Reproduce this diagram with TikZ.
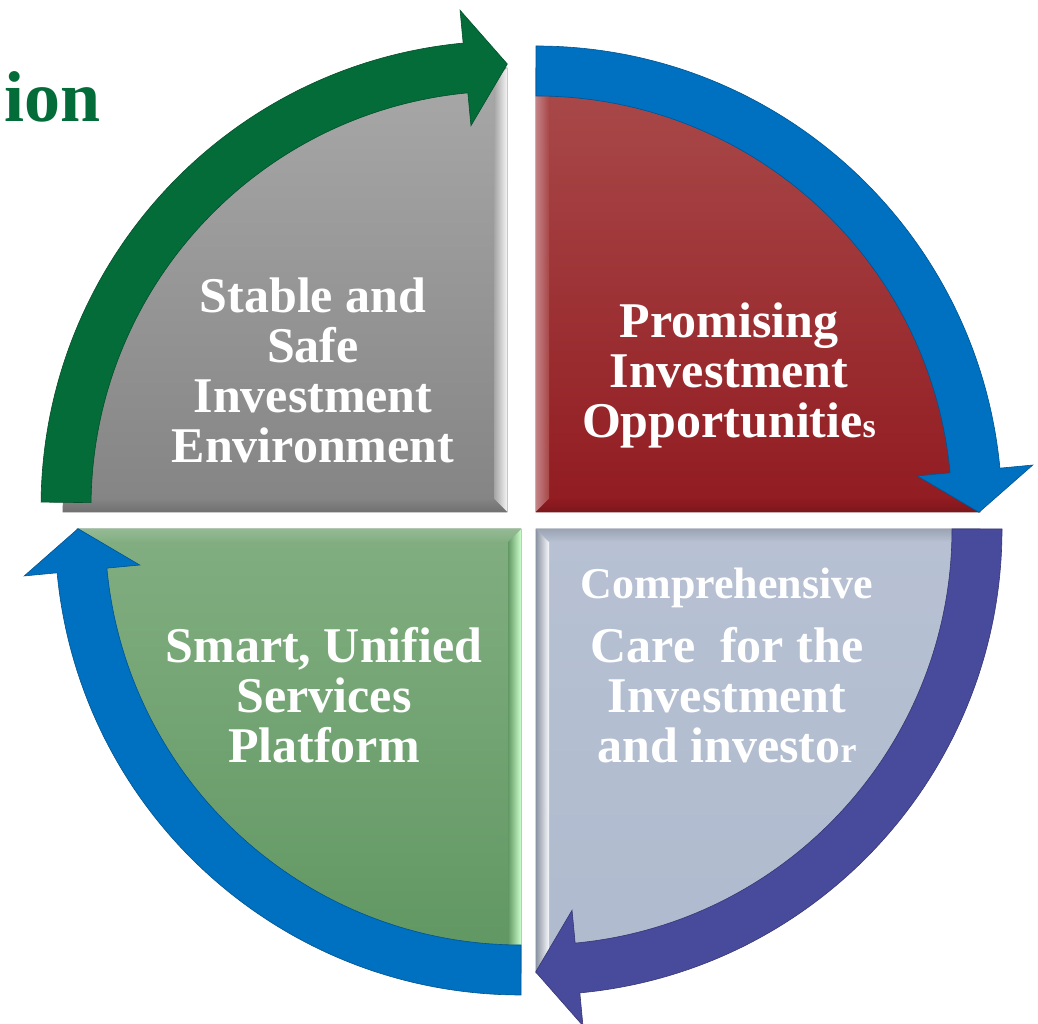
\documentclass[tikz,border=0pt]{standalone}
\usepackage{fontspec}
\setmainfont{Liberation Serif}
\usepackage{tikz}
\usetikzlibrary{calc}
\usetikzlibrary{arrows.meta}
\usetikzlibrary{positioning}
\tikzset{>=latex}

\definecolor{graytop}{HTML}{A8A8A8}
\definecolor{graybot}{HTML}{848484}
\definecolor{redtop}{HTML}{AA4B4B}
\definecolor{redbot}{HTML}{911B21}
\definecolor{greentop}{HTML}{82AE81}
\definecolor{greenbot}{HTML}{5F9661}
\definecolor{bgtop}{HTML}{B7C1D3}
\definecolor{bgbot}{HTML}{AFBACE}
\definecolor{vgreen}{HTML}{046C38}
\definecolor{vblue}{HTML}{0070C0}
\definecolor{vpurple}{HTML}{484A9C}

\tikzstyle{lbl} = [draw=none, inner sep = 0, text = white, align = center, font = \bfseries\fontsize{50}{50}\selectfont]
\tikzstyle{edge} = [line width = 0.6pt]
\tikzstyle{bevel} = [draw = none]

% curved arrow round a corner: #1 corner, #2 start angle, #3 end angle, #4 colour
\newcommand{\turnarrow}[4]{
  \draw [edge, fill = #4, draw = #4!75!black] ($(#1) + (#2:466)$) arc (#2:#3:466)
    -- ($(#1) + (#3:499)$) -- ($(#1) + (#3:441) + (#3-90:42)$) -- ($(#1) + (#3:383)$)
    -- ($(#1) + (#3:416)$) arc (#3:#2:416) -- cycle;
}

\begin{document}
\begin{tikzpicture}[x = 1pt, y = 1pt]
\useasboundingbox (0, 0) rectangle (1038, 1024);

% corners of the four quarters
\coordinate (cS) at (507, 512);
\coordinate (cP) at (536, 512);
\coordinate (cU) at (521, 495);
\coordinate (cC) at (536, 495);
\coordinate (aS) at (507, 517); % the green arrow sits a little higher

% quarters
\shadedraw [edge, draw = graybot!80!black, top color = graytop, bottom color = graybot] (cS) -- ++(180:444) arc (180:90:444) -- cycle;
\shadedraw [edge, draw = redbot!80!black, top color = redtop, bottom color = redbot] (cP) -- ++(0:444) arc (0:90:444) -- cycle;
\shadedraw [edge, draw = greenbot!80!black, top color = greentop, bottom color = greenbot] (cU) -- ++(270:444) arc (270:180:444) -- cycle;
\shadedraw [edge, draw = bgbot!70!black, top color = bgtop, bottom color = bgbot] (cC) -- ++(0:444) arc (0:-90:444) -- cycle;

% bevels along the straight edges
\shade [bevel, left color = graytop!90!graybot, right color = white!92!gray] (cS) -- ++(0, 444) -- ++(-13, -13) -- ($(cS) + (-13, 13)$) -- cycle;
\shade [bevel, top color = graybot, bottom color = graybot!85!black] (cS) -- ++(-444, 0) -- ++(0, 13) -- ($(cS) + (-13, 13)$) -- cycle;
\shade [bevel, left color = redbot!55!white, right color = redtop!90!redbot] (cP) -- ++(0, 444) -- ++(13, -13) -- ($(cP) + (13, 13)$) -- cycle;
\shade [bevel, top color = redbot, bottom color = redbot!85!black] (cP) -- ++(444, 0) -- ++(-13, 13) -- ($(cP) + (13, 13)$) -- cycle;
\shade [bevel, left color = greenbot!90!greentop, right color = green!20!white] (cU) -- ++(0, -444) -- ++(-13, 13) -- ($(cU) + (-13, -13)$) -- cycle;
\shade [bevel, top color = greentop!85!white, bottom color = greentop] (cU) -- ++(-444, 0) -- ++(13, -13) -- ($(cU) + (-13, -13)$) -- cycle;
\shade [bevel, left color = bgbot!80!black, right color = white!90!bgtop] (cC) -- ++(0, -444) -- ++(13, 13) -- ($(cC) + (13, -13)$) -- cycle;
\shade [bevel, top color = bgtop!85!black, bottom color = bgtop] (cC) -- ++(444, 0) -- ++(-13, -13) -- ($(cC) + (13, -13)$) -- cycle;

% arrows round the cycle
\turnarrow{aS}{179.4}{95.4}{vgreen}
\turnarrow{cP}{90}{5.4}{vblue}
\turnarrow{cC}{0}{-84.6}{vpurple}
\turnarrow{cU}{270}{185.4}{vblue}

% texts
\node [lbl] (S) at (313, 654) {Stable and\\Safe\\Investment\\Environment};
\node [lbl] (P) at (729, 649) {Promising\\Investment\\Opportunitie{\fontsize{34}{34}\selectfont s}};
\node [lbl] (U) at (324, 329) {Smart, Unified\\Services\\Platform};
\node [lbl] (C) at (727, 329) {Care~ for the\\Investment\\and investo{\fontsize{36}{36}\selectfont r}};
\node [lbl, font = \bfseries\fontsize{44}{44}\selectfont, above = 19pt of C] (Cm) {Comprehensive};

\node [draw=none, inner sep = 0, anchor = base east, text = vgreen, font = \bfseries\fontsize{72}{72}\selectfont] (T) at (101, 902) {ion};
\end{tikzpicture}
\end{document}
